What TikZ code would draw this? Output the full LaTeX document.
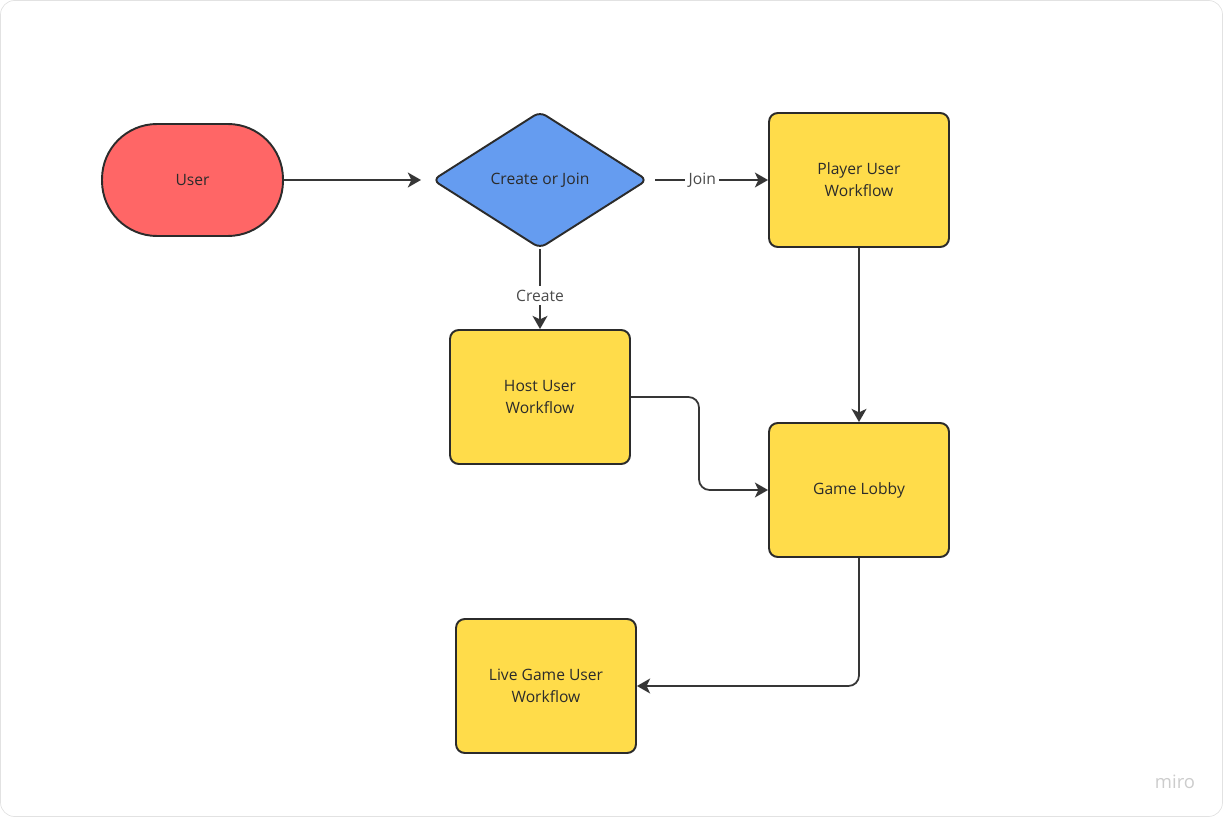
\documentclass[tikz,border=0pt]{standalone}
\usepackage{fontspec}
\setmainfont{Open Sans}
\usepackage{tikz}
\usetikzlibrary{shapes.geometric,arrows.meta}

\definecolor{userred}{HTML}{FF6666}
\definecolor{choiceblue}{HTML}{659CF0}
\definecolor{flowyellow}{HTML}{FFDC4A}
\definecolor{ink}{HTML}{2B2B2B}
\definecolor{framegray}{HTML}{E2E2E2}

\tikzset{
  box/.style={draw=ink, line width=1.1pt, fill=flowyellow, rounded corners=5pt,
    minimum width=3.6cm, minimum height=2.68cm, align=center, text=ink,
    font=\fontsize{8.9}{12.4}\selectfont},
  link/.style={draw=ink!95, line width=1pt, -{Stealth[length=7.5pt,width=8.5pt,inset=2pt]}},
  tag/.style={fill=white, text=ink!85, inner sep=2pt, font=\fontsize{8.9}{10}\selectfont}
}

\begin{document}
\begin{tikzpicture}[x=0.02cm,y=-0.02cm]
    \useasboundingbox (0,0) rectangle (1223,817);
    \draw[framegray, rounded corners=8pt] (0.5,0.5) rectangle (1222.5,816.5);

    % shapes
    \node[box, fill=userred, rounded corners=1.1cm, minimum width=3.62cm, minimum height=2.24cm] (user) at (192.5,180) {User};
    \node[box, fill=choiceblue, shape=diamond, aspect=1.57, inner sep=0pt, rounded corners=4pt,
          minimum width=4.3cm, minimum height=2.74cm] (choice) at (540,180) {Create or Join};
    \node[box] (player) at (859,180) {Player User\\Workflow};
    \node[box] (host) at (540,397) {Host User\\Workflow};
    \node[box] (lobby) at (859,490) {Game Lobby};
    \node[box] (live) at (546,686) {Live Game User\\Workflow};

    % connectors
    \draw[link, shorten >=6pt] (user) -- (choice);
    \draw[link, shorten <=4pt] (choice) -- node[tag, pos=0.45] {Join} (player);
    \draw[link] (choice) -- node[tag, pos=0.58] {Create} (host);
    \draw[link] (player) -- (lobby);
    \draw[link, rounded corners=6pt] (host.east) -- (699,397) -- (699,490) -- (lobby.west);
    \draw[link, rounded corners=6pt] (lobby.south) -- (859,686) -- (live.east);

    \node[text=black!20, font=\fontsize{10.5}{12}\selectfont] (brand) at (1175,782) {miro};
\end{tikzpicture}
\end{document}
